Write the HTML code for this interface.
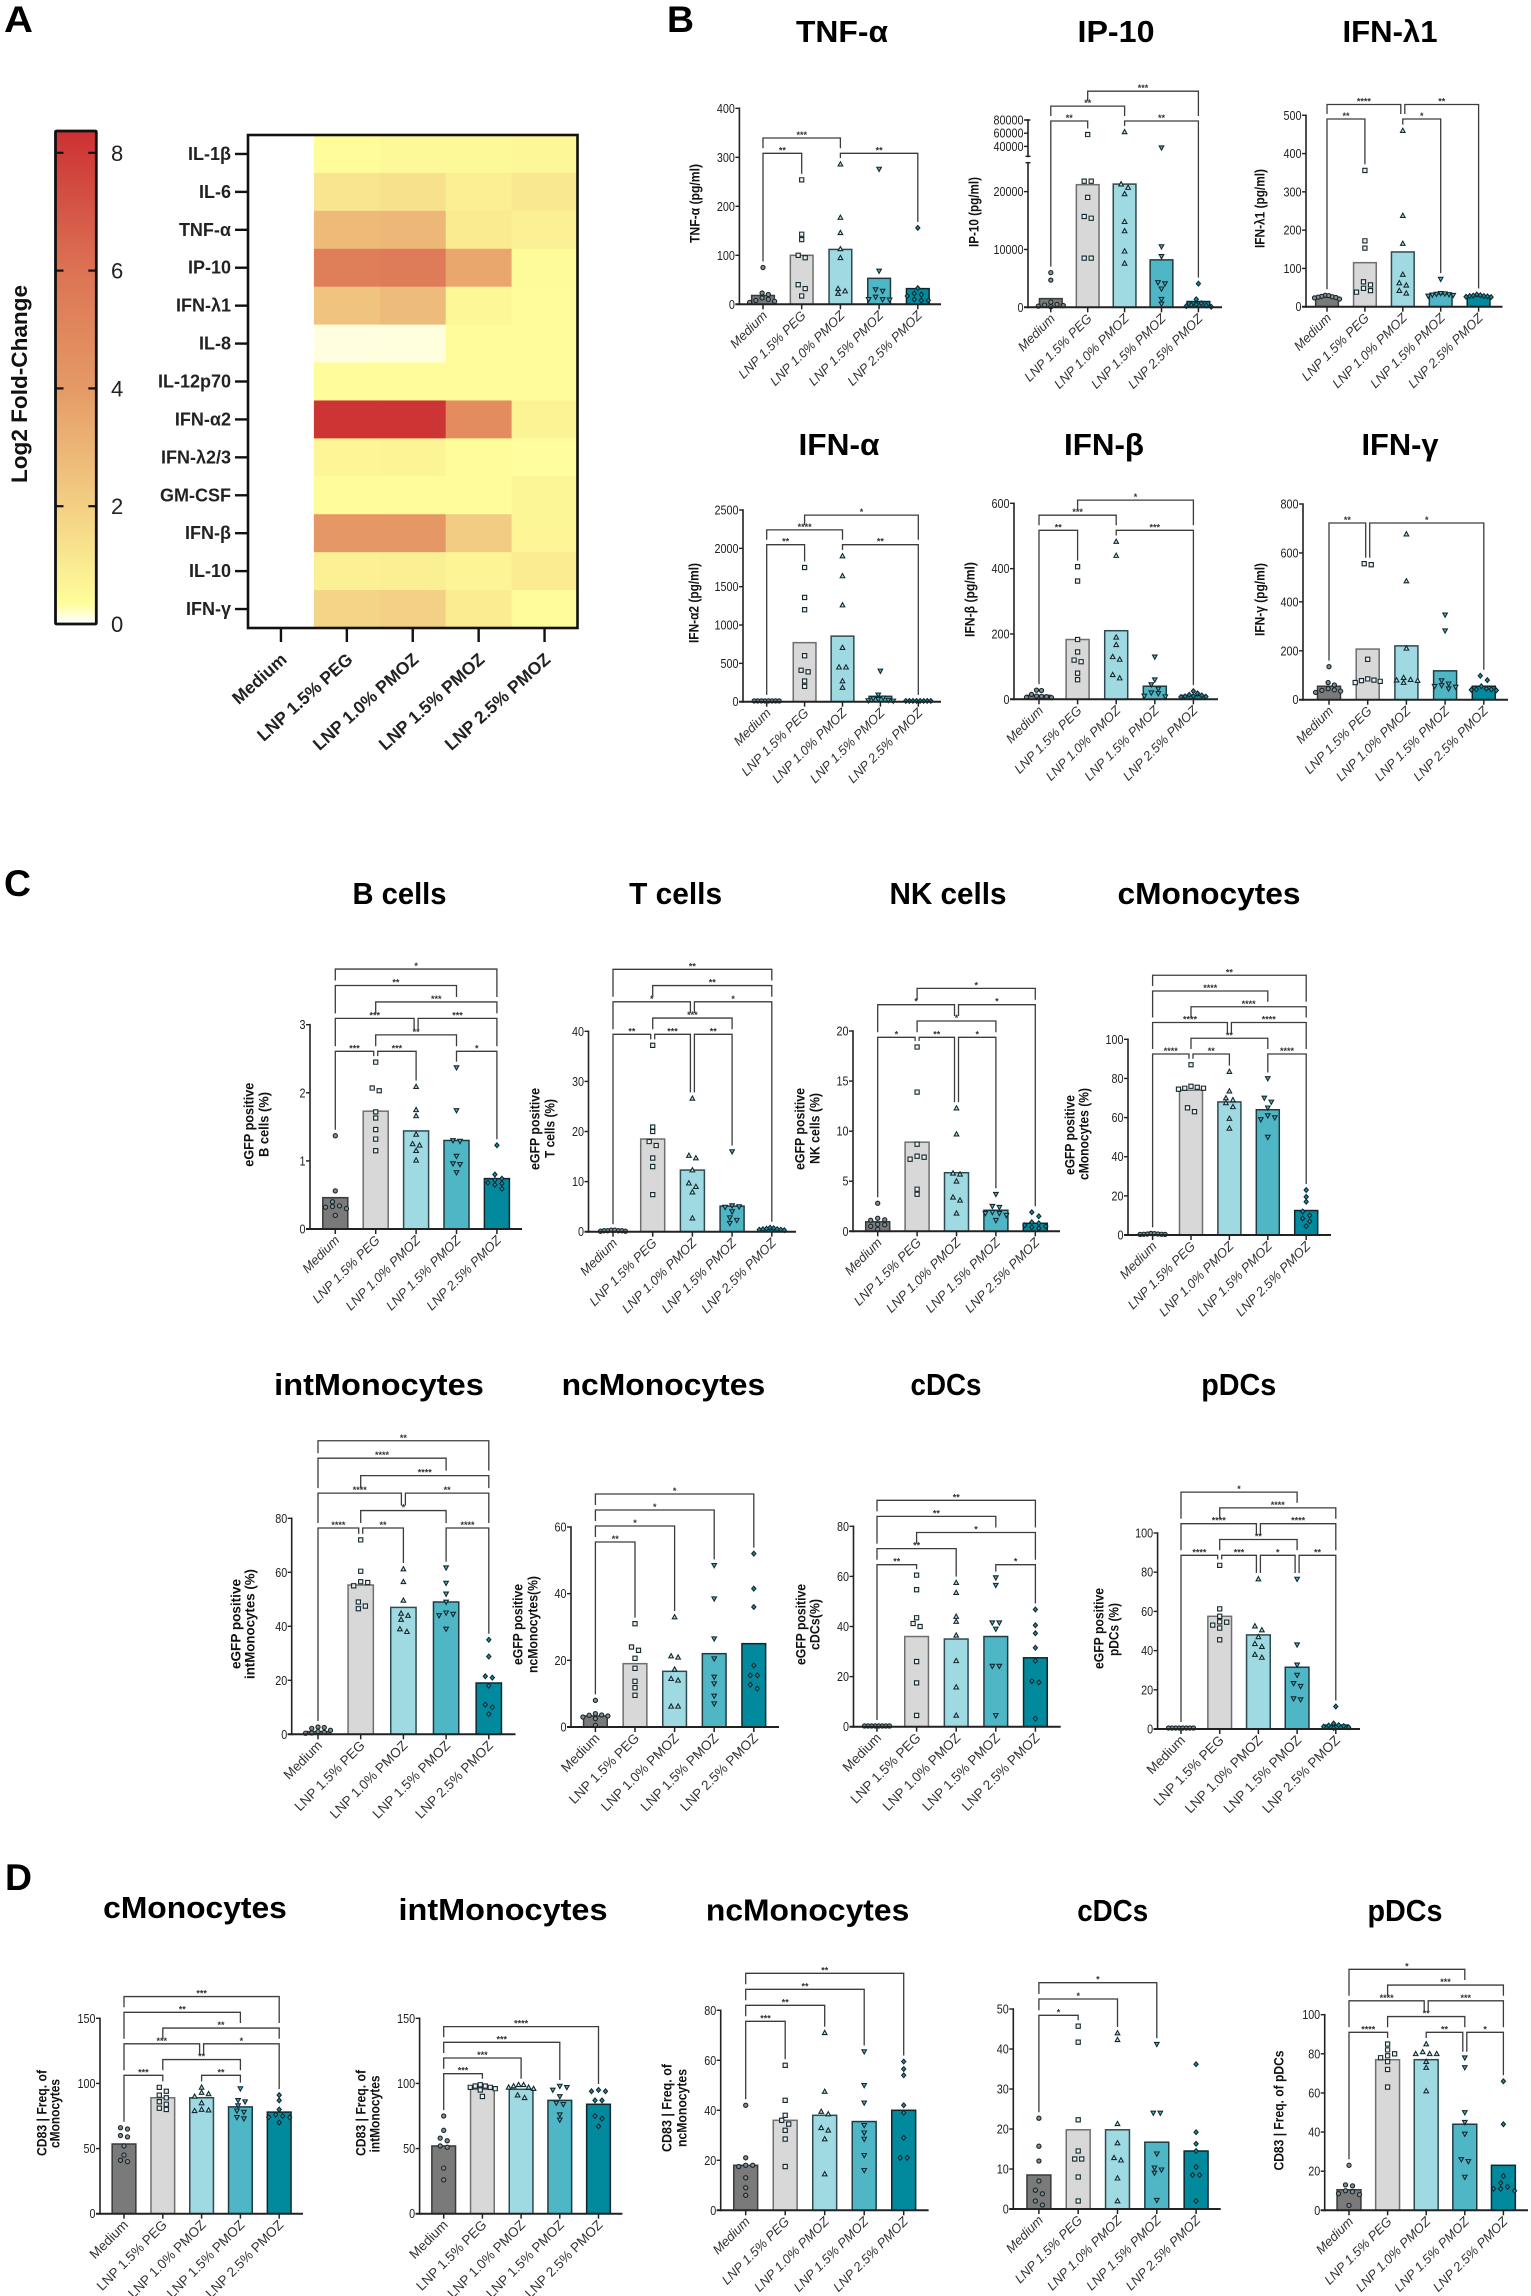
<!DOCTYPE html>
<html lang="en">
<head>
<meta charset="utf-8">
<title>LNP cytokine and eGFP panels</title>
<style>
html,body{margin:0;padding:0;background:#fff}
svg{display:block}
text{font-family:"Liberation Sans",Arial,sans-serif}
.panel-label{font-size:37px;font-weight:700;fill:#000}
</style>
</head>
<body>
<svg id="figure" xmlns="http://www.w3.org/2000/svg" width="1531" height="2296" viewBox="0 0 1531 2296">
<rect x="0" y="0" width="1531" height="2296" fill="#fff"/>
<defs><linearGradient id="heat-gradient" x1="0" y1="1" x2="0" y2="0"></linearGradient></defs>
<text class="panel-label" x="4" y="32" textLength="29" lengthAdjust="spacingAndGlyphs">A</text>
<text class="panel-label" x="667" y="32" textLength="27" lengthAdjust="spacingAndGlyphs">B</text>
<text class="panel-label" x="4" y="896" textLength="27" lengthAdjust="spacingAndGlyphs">C</text>
<text class="panel-label" x="5" y="1890" textLength="27" lengthAdjust="spacingAndGlyphs">D</text>
</svg>
<script>
// ---------- shared categories ----------
const categories = ['Medium','LNP 1.5% PEG','LNP 1.0% PMOZ','LNP 1.5% PMOZ','LNP 2.5% PMOZ'];
const barFills = ['#7a7a7a','#d8d8d8','#9fdae2','#4fb6c6','#018a9e'];
const barStrokes = ['#3a3a3a','#6f6f6f','#2f4a50','#1f3b42','#10262c'];
const markerFills = ['#8c8c8c','#efefef','#bfe7ec','#4fb6c6','#0f94a8'];

// ---------- heatmap data ----------
const heatRows = ['IL-1β','IL-6','TNF-α','IP-10','IFN-λ1','IL-8','IL-12p70','IFN-α2','IFN-λ2/3','GM-CSF','IFN-β','IL-10','IFN-γ'];
const heatValues = [
 [null,.38,.5,.5,.55],
 [null,1.2,1.35,.85,1.1],
 [null,2.8,2.9,1.0,.8],
 [null,5.4,5.6,3.5,.42],
 [null,2.4,2.7,.55,.36],
 [null,.13,.14,.4,.4],
 [null,.36,.36,.4,.4],
 [null,8.2,8.2,4.7,.7],
 [null,.62,.66,.36,.34],
 [null,.36,.4,.4,.6],
 [null,4.1,4.1,2.1,.62],
 [null,.8,.85,.66,.95],
 [null,1.8,1.95,.95,.36]
];
const colorTicks = [0,2,4,6,8];
const colorStopValues = [0,.08,.35,2,4,6,8.37];
const colorStopColors = ['#ffffff','#fffff0','#fffd9a','#f3cf84','#e59a66','#dc7354','#cc3033'];

// ---------- panel B ----------
const tnfTicks=[0,100,200,300,400];
const tnfBars=[18,100,112,53,32];
const tnfPoints=[[75,23,20,13,10,8,6,4],[254,143,132,100,95,40,32,17],[286,177,146,113,95,32,27,22],[276,68,30,27,15,10,10,9],[156,33,22,20,17,10,8,8]];
const tnfBrackets=[[0,1,'**',1],[2,4,'**',1],[0,2,'***',2]];

const ip10Ticks=[0,10000,20000,40000,60000,80000];
const ip10Bars=[1500,21200,21300,8200,1000];
const ip10Points=[[6000,4700,900,500,400,300,200,100],[58000,21800,21800,19000,15700,15400,8500,8500],[62000,21300,20700,19600,14800,13200,9700,7600],[38000,10500,8800,4300,4100,3200,1400,600],[4100,1400,700,500,400,300,200,100]];
const ip10Brackets=[[0,1,'**',1],[2,4,'**',1],[0,2,'**',2],[1,4,'***',3]];

const ifnl1Ticks=[0,100,200,300,400,500];
const ifnl1Bars=[25,115,143,33,28];
const ifnl1Points=[[30,29,27,26,25,24,23,20],[356,172,153,65,57,48,42,38],[460,238,165,84,62,56,42,35],[72,35,34,33,32,31,30,28],[32,30,29,28,28,27,26,25]];
const ifnl1Brackets=[[0,1,'**',1],[2,3,'*',1],[0,2,'****',2],[2,4,'**',2]];

const ifnaTicks=[0,500,1000,1500,2000,2500];
const ifnaBars=[10,770,855,70,10];
const ifnaPoints=[[10,10,10,10,10,10,10,10],[1750,1360,1200,600,410,390,270,200],[1900,1640,1260,705,450,450,270,185],[400,90,50,40,30,20,15,10],[10,10,10,10,10,10,10,10]];
const ifnaBrackets=[[0,1,'**',1],[2,4,'**',1],[0,2,'****',2],[1,4,'*',3]];

const ifnbTicks=[0,200,400,600];
const ifnbBars=[12,183,210,40,12];
const ifnbPoints=[[28,27,15,10,9,8,6,5],[406,362,183,145,120,115,80,60],[483,440,190,167,130,122,75,65],[130,60,45,32,20,18,10,8],[25,18,14,12,10,9,8,7]];
const ifnbBrackets=[[0,1,'**',1],[2,4,'***',1],[0,2,'***',2],[1,4,'*',3]];

const ifngTicks=[0,200,400,600,800];
const ifngBars=[55,207,220,118,55];
const ifngPoints=[[135,70,60,45,40,38,35,30],[556,552,165,85,80,78,75,70],[677,485,210,90,82,80,78,70],[347,282,78,65,58,55,52,45],[98,80,55,45,42,42,40,38]];
const ifngBrackets=[[0,1,'**',1],[1,4,'*',1]];

// ---------- panel C ----------
const bcellTicks=[0,1,2,3];
const bcellBars=[.46,1.73,1.44,1.30,.74];
const bcellPoints=[[1.37,.56,.40,.34,.33,.32,.30,.20],[2.45,2.07,2.03,1.72,1.63,1.46,1.32,1.15],[2.09,1.75,1.66,1.39,1.25,1.23,1.15,1.01],[2.37,1.74,1.30,1.29,1.07,.96,.95,.83],[1.23,.80,.74,.72,.68,.67,.65,.59]];
const bcellBrackets=[[0,1,'***',1],[1,2,'***',1],[3,4,'*',1],[1,3,'**',2],[0,2,'***',3],[2,4,'***',3],[1,4,'***',4],[0,3,'**',5],[0,4,'*',6]];

const tcellTicks=[0,10,20,30,40];
const tcellBars=[.2,18.5,12.3,5.1,.5];
const tcellPoints=[[.3,.3,.2,.2,.2,.2,.1,.1],[37.2,20.9,20,18,17.2,14.7,13,7.4],[26.6,15.2,14.7,12.3,9.7,9,7.9,2.7],[16,5.2,5,4.9,4,2.8,2.3,1.7],[.8,.7,.6,.5,.5,.4,.4,.3]];
const tcellBrackets=[[0,1,'**',1],[1,2,'***',1],[2,3,'**',1],[1,3,'***',2],[0,2,'*',3],[2,4,'*',3],[1,4,'**',4],[0,4,'**',5]];

const nkTicks=[0,5,10,15,20];
const nkBars=[.95,8.9,5.85,2.1,.8];
const nkPoints=[[2.8,1.3,1.15,1.1,.7,.65,.5,.2],[18.4,13.9,8.7,7.5,7.4,7.2,4.2,3.7],[12.3,9.7,5.8,5.7,5,3.4,3.1,1.8],[3.7,2.5,2.4,1.9,1.8,1.8,1.6,1.1],[1.9,1.5,.9,.8,.6,.5,.4,.3]];
const nkBrackets=[[0,1,'*',1],[1,2,'**',1],[2,3,'*',1],[1,3,'*',2],[0,2,'*',3],[2,4,'*',3],[1,4,'*',4]];

const cmonoTicks=[0,20,40,60,80,100];
const cmonoBars=[.5,74,68,64,12.5];
const cmonoPoints=[[.8,.7,.5,.5,.4,.4,.3,.3],[87,76,75.5,75,75,74.5,65,63],[83.5,73.5,70,69,67.5,65.5,59.5,54.5],[80,70,68,65,61,60,59,50],[23,19.5,17,12,10,8.5,7,4.5]];
const cmonoBrackets=[[0,1,'****',1],[1,2,'**',1],[3,4,'****',1],[1,3,'**',2],[0,2,'****',3],[2,4,'****',3],[1,4,'****',4],[0,3,'****',5],[0,4,'**',6]];

const imonoTicks=[0,20,40,60,80];
const imonoBars=[1,55.3,47,49,19];
const imonoPoints=[[2.7,2.5,2.2,1.5,1,.7,.5,.4],[72,60.4,56.5,56.2,55,49,47.5,46.5],[61.2,56.5,49.6,44.8,44,42.5,39,38],[61.7,56,52,49,45,44.5,44,39],[35,28.8,21.5,21,18,11,10,7.5]];
const imonoBrackets=[[0,1,'****',1],[1,2,'**',1],[3,4,'****',1],[1,3,'*',2],[0,2,'****',3],[2,4,'**',3],[1,4,'****',4],[0,3,'****',5],[0,4,'**',6]];

const ncmonoTicks=[0,20,40,60];
const ncmonoBars=[3.3,19,16.7,22,25];
const ncmonoPoints=[[8,4,3.6,3.5,3.3,3,2.5,.5],[31,24,23,20.6,17.6,13.7,11.8,9.5],[33,21.3,20.9,17.3,14.5,14,6.2,6.2],[48.5,38.5,26.5,20.5,15,13,9.3,7],[52,41.5,36,18.5,15.5,15.5,12.7,11.5]];
const ncmonoBrackets=[[0,1,'**',1],[0,2,'*',2],[0,3,'*',3],[0,4,'*',4]];

const cdcTicks=[0,20,40,60,80];
const cdcBars=[.3,36,35,36,27.5];
const cdcPoints=[[.3,.3,.3,.3,.3,.3,.3,.3],[60.5,54.7,43.5,41.2,40,26,17.5,4.5],[57.5,53.5,44,42,36.5,26.3,15.8,4.5],[59.5,56.5,41.5,41.5,39,24.2,24.2,4.5],[46.8,40.5,37.3,31.5,26.3,18.2,17.7,3.2]];
const cdcBrackets=[[0,1,'**',1],[3,4,'*',1],[0,2,'**',2],[1,4,'*',3],[0,3,'**',4],[0,4,'**',5]];

const pdcTicks=[0,20,40,60,80,100];
const pdcBars=[.5,57.5,48,31.5,2];
const pdcPoints=[[.5,.5,.5,.5,.5,.5,.5,.5],[83.5,61.3,57.5,54.7,54.5,53,51.5,45.5],[76.5,52.5,50.5,47,43.5,42,38,36.5],[76.5,43,32.7,27.5,23.3,21.8,15.5,15],[11.5,2.8,2,1.8,1.5,1.2,.9,.5]];
const pdcBrackets=[[0,1,'****',1],[1,2,'***',1],[2,3,'*',1],[3,4,'**',1],[1,3,'**',2],[0,2,'****',3],[2,4,'****',3],[1,4,'****',4],[0,3,'*',5]];

// ---------- panel D ----------
const dCmonoTicks=[0,50,100,150];
const dCmonoBars=[53.5,89,89,82,78];
const dCmonoPoints=[[66,65,60,59,52,45,41,40],[97,94,91,89,86,84,81,80],[97,93,92,90,85,80,79.5,79],[96,87,86,83,79,78,74,73],[91,87,80,76,75,74,74,70]];
const dCmonoBrackets=[[0,1,'***',1],[2,3,'**',1],[1,3,'**',2],[0,2,'***',3],[2,4,'*',3],[1,4,'**',4],[0,3,'**',5],[0,4,'***',6]];

const dImonoTicks=[0,50,100,150];
const dImonoBars=[52,95.5,95.5,87,84];
const dImonoPoints=[[75,64,58,56,52,51,35,26],[99,98,98,97,97,96,95,90],[99,99,98,97,97,96,91,89],[98,97,95,90,85,84,76,72],[95,94,94,87,87,75,73,67]];
const dImonoBrackets=[[0,1,'***',1],[0,2,'***',2],[0,3,'***',3],[0,4,'****',4]];

const dNcmonoTicks=[0,20,40,60,80];
const dNcmonoBars=[18,36,38,35.5,40];
const dNcmonoPoints=[[42,21,18,18,17.5,13,9,6],[58,44,38,36,34.5,32,28.5,17.5],[71,47.5,39.5,38.5,33,32,28.5,14.5],[63.5,50,43,34,31,28.5,22,16],[59.5,56.5,54,42,39,29,21,21]];
const dNcmonoBrackets=[[0,1,'***',1],[0,2,'**',2],[0,3,'**',3],[0,4,'**',4]];

const dCdcTicks=[0,10,20,30,40,50];
const dCdcBars=[8.5,19.8,19.8,16.7,14.5];
const dCdcPoints=[[22.7,15.7,12,7,4.7,3.8,2,1],[45.7,41.7,22.3,14.5,12.5,12.5,8,2],[44,42.3,21.3,16.5,12.8,12.2,7.7,2],[41.2,24,24,13.8,10.3,9.8,9,2.2],[36.2,19.2,16.3,14.5,10.5,8.5,8.5,2]];
const dCdcBrackets=[[0,1,'*',1],[0,2,'*',2],[0,3,'*',3]];

const dPdcTicks=[0,20,40,60,80,100];
const dPdcBars=[10.5,77,77,44,23];
const dPdcPoints=[[23,13,12.5,10,9.5,8.5,8,2.5],[85,82,80,79,78,76,72,63],[85,81,80,80,80,76,73,61],[78,73,50,45,39,26,25,17],[66,44,17.5,14,12,11,11,10]];
const dPdcBrackets=[[0,1,'****',1],[2,3,'**',1],[3,4,'*',1],[1,3,'**',2],[0,2,'****',3],[2,4,'***',3],[1,4,'***',4],[0,3,'*',5]];

// ---------- helpers ----------
const NS='http://www.w3.org/2000/svg';
const root=document.getElementById('figure');
function make(tag,attrs,parent){
  const el=document.createElementNS(NS,tag);
  for(const k in attrs){el.setAttribute(k,attrs[k]);}
  parent.appendChild(el);
  return el;
}
function heatColor(v){
  if(v===null){return '#ffffff';}
  for(let i=1;i<colorStopValues.length;i++){
    if(v<=colorStopValues[i]){
      const t=(v-colorStopValues[i-1])/(colorStopValues[i]-colorStopValues[i-1]);
      return mix(colorStopColors[i-1],colorStopColors[i],t);
    }
  }
  return colorStopColors[colorStopColors.length-1];
}
function mix(a,b,t){
  const pa=[1,3,5].map(function(i){return parseInt(a.substr(i,2),16);});
  const pb=[1,3,5].map(function(i){return parseInt(b.substr(i,2),16);});
  return 'rgb('+pa.map(function(c,i){return Math.round(c+(pb[i]-c)*t);}).join(',')+')';
}
function markerPath(shape,x,y){
  const r=2.1;
  if(shape===0){return 'M'+(x-r)+' '+y+'a'+r+' '+r+' 0 1 0 '+(2*r)+' 0a'+r+' '+r+' 0 1 0 '+(-2*r)+' 0z';}
  if(shape===1){return 'M'+(x-r)+' '+(y-r)+'h'+(2*r)+'v'+(2*r)+'h'+(-2*r)+'z';}
  if(shape===2){return 'M'+x+' '+(y-r-.3)+'L'+(x+r+.2)+' '+(y+r-.3)+'H'+(x-r-.2)+'z';}
  if(shape===3){return 'M'+x+' '+(y+r+.3)+'L'+(x+r+.2)+' '+(y-r+.3)+'H'+(x-r-.2)+'z';}
  return 'M'+x+' '+(y-r-.3)+'L'+(x+r)+' '+y+'L'+x+' '+(y+r+.3)+'L'+(x-r)+' '+y+'z';
}
function swarm(ys){
  const order=ys.map(function(y,i){return i;}).sort(function(a,b){return ys[a]-ys[b];});
  const off=new Array(ys.length).fill(0);
  const placed=[];
  const step=7;
  order.forEach(function(i){
    for(let k=0;k<40;k++){
      const cand=k===0?0:(k%2?(k+1)/2*step:-k/2*step);
      const clash=placed.some(function(j){return Math.abs(ys[j]-ys[i])<4.5&&Math.abs(off[j]-cand)<6.5;});
      if(!clash){off[i]=cand;placed.push(i);break;}
    }
  });
  let start=0;
  for(let n=1;n<=order.length;n++){
    if(n===order.length||ys[order[n]]-ys[order[n-1]]>=4.5){
      const idx=order.slice(start,n);
      const mean=idx.reduce(function(s,i){return s+off[i];},0)/idx.length;
      const lo=Math.min.apply(null,idx.map(function(i){return off[i]-mean;}));
      const hi=Math.max.apply(null,idx.map(function(i){return off[i]-mean;}));
      const f=hi-lo>25?25/(hi-lo):1;
      idx.forEach(function(i){off[i]=(off[i]-mean)*f;});
      start=n;
    }
  }
  return off;
}

// ---------- heatmap ----------
function drawHeatmap(){
  const grad=document.getElementById('heat-gradient');
  colorStopValues.forEach(function(v,i){
    make('stop',{offset:(v/8.37*100)+'%','stop-color':colorStopColors[i]},grad);
  });
  const g=make('g',{},root);
  
  
  const barX=55.5,barW=40.8,barTop=131,barBot=624;
  const barY=function(v){return barBot-v/8.37*(barBot-barTop);};
  const cb=make('rect',{x:barX,y:barTop,width:barW,height:barBot-barTop,fill:'url(#heat-gradient)',stroke:'#111','stroke-width':2.8,rx:1},g);
  
  
  colorTicks.forEach(function(v){
    const y=barY(v);
    if(v>0){
      const t1=make('line',{x1:barX,x2:barX+8,y1:y,y2:y,stroke:'#111','stroke-width':2.2},g);
      
      
      const t2=make('line',{x1:barX+barW-8,x2:barX+barW,y1:y,y2:y,stroke:'#111','stroke-width':2.2},g);
      
      
    }
    const tx=make('text',{x:111,y:y+8,'font-size':22,fill:'#222'},g);
    tx.textContent=String(v);
    
    
  });
  const ct=make('text',{x:27,y:384,'font-size':22,'font-weight':700,'text-anchor':'middle',fill:'#111',transform:'rotate(-90 27 384)',textLength:198,lengthAdjust:'spacingAndGlyphs'},g);
  ct.textContent='Log2 Fold-Change';
  
  

  const left=248,right=577.5,top=135,bot=628;
  const cw=(right-left)/categories.length,rh=(bot-top)/heatRows.length;
  heatRows.forEach(function(name,r){
    categories.forEach(function(c,ci){
      const cell=make('rect',{x:left+ci*cw,y:top+r*rh,width:cw+.4,height:rh+.4,fill:heatColor(heatValues[r][ci])},g);
      
      
    });
    const y=top+(r+.5)*rh;
    const tk=make('line',{x1:235,x2:left,y1:y,y2:y,stroke:'#111','stroke-width':2.4},g);
    
    
    const lb=make('text',{x:231,y:y+6,'font-size':18,'font-weight':700,'text-anchor':'end',fill:'#222'},g);
    lb.textContent=name;
    
    
  });
  const frame=make('rect',{x:left,y:top,width:right-left,height:bot-top,fill:'none',stroke:'#111','stroke-width':2.6},g);
  
  
  categories.forEach(function(c,ci){
    const x=left+(ci+.5)*cw;
    const tk=make('line',{x1:x,x2:x,y1:bot,y2:642,stroke:'#111','stroke-width':2.4},g);
    
    
    const lb=make('text',{x:x+7,y:661,'font-size':17.5,'font-weight':700,'text-anchor':'end',fill:'#222',transform:'rotate(-42 '+(x+7)+' 661)'},g);
    lb.textContent=c;
    
    
  });
}

// ---------- bar chart ----------
function drawBarChart(o){
  const g=make('g',{},root);
  
  
  const yScale=function(v){
    for(let i=0;i<o.scale.length;i++){
      const s=o.scale[i];
      if(v<=s[2]||i===o.scale.length-1){return s[1]+(v-s[0])/(s[2]-s[0])*(s[3]-s[1]);}
    }
  };
  const xScale=function(i){return o.cx0+i*o.dx;};
  const y0=yScale(0);

  const title=make('text',{x:o.titleX,y:o.titleBase,'font-size':31,'font-weight':700,'text-anchor':'middle',fill:'#000',textLength:o.titleW,lengthAdjust:'spacingAndGlyphs'},g);
  title.textContent=o.title;
  
  

  o.yTitles.forEach(function(t){
    const tx=t[1]+.5;
    const yt=make('text',{x:tx,y:t[2],'font-size':13.5,'font-weight':700,'text-anchor':'middle',fill:'#111',transform:'rotate(-90 '+tx+' '+t[2]+')',textLength:t[3],lengthAdjust:'spacingAndGlyphs'},g);
    yt.textContent=t[0];
    
    
  });

  o.bars.forEach(function(v,i){
    const x=xScale(i);
    const top=yScale(v);
    const bar=make('rect',{x:x-o.barW/2,y:top,width:o.barW,height:y0-top,fill:barFills[i],stroke:barStrokes[i],'stroke-width':1.5},g);
    
    
  });

  o.points.forEach(function(vals,i){
    const ys=vals.map(yScale);
    const off=swarm(ys);
    vals.forEach(function(v,k){
      const pt=make('path',{d:markerPath(i,xScale(i)+off[k],ys[k]),fill:markerFills[i],stroke:'#13282e','stroke-width':1.1},g);
      
      
    });
  });

  // y axis (one line per scale segment so the broken axis shows a gap)
  o.scale.forEach(function(s){
    const ln=make('line',{x1:o.axisX,x2:o.axisX,y1:s[1]+1,y2:s[3]-.8,stroke:'#222','stroke-width':1.6},g);
    
    
    if(o.scale.length>1){
      [s[1],s[3]].forEach(function(yy){
        const bk=make('line',{x1:o.axisX-2.5,x2:o.axisX+2.5,y1:yy,y2:yy,stroke:'#222','stroke-width':1.4},g);
        
        
      });
    }
  });
  o.ticks.forEach(function(v){
    const y=yScale(v);
    const tk=make('line',{x1:o.axisX-4,x2:o.axisX,y1:y,y2:y,stroke:'#222','stroke-width':1.4},g);
    
    
    const s=String(v);
    const lb=make('text',{x:o.axisX-4.5,y:y+4.5,'font-size':12.5,'text-anchor':'end',fill:'#222',textLength:s.length*6,lengthAdjust:'spacingAndGlyphs'},g);
    lb.textContent=s;
    
    
  });

  // x axis
  const xa=make('line',{x1:o.axisX-4,x2:o.axisEnd,y1:y0,y2:y0,stroke:'#222','stroke-width':2},g);
  
  
  categories.forEach(function(c,i){
    const x=xScale(i);
    const tk=make('line',{x1:x,x2:x,y1:y0,y2:y0+5,stroke:'#222','stroke-width':1.5},g);
    
    
    const ax=x+5,ay=y0+12;
    const lb=make('text',{x:ax,y:ay,'font-size':o.italic?13:13.5,'font-style':o.italic?'italic':'normal','text-anchor':'end',fill:'#333',transform:'rotate(-45 '+ax+' '+ay+')'},g);
    lb.textContent=c;
    
    
  });

  // significance brackets: positions derive from level, data and lower brackets
  const levelY=function(l){return o.bracketY-(l-1)*o.bracketStep;};
  const legEnd=function(cat,level){
    let best=0;
    o.brackets.forEach(function(b){
      if(b[3]<level&&b[0]<=cat&&cat<=b[1]&&b[3]>best){best=b[3];}
    });
    if(best>0){return levelY(best)-5;}
    return yScale(Math.max.apply(null,o.points[cat]))-6;
  };
  o.brackets.forEach(function(b){
    const y=levelY(b[3]);
    const sharedL=o.brackets.some(function(q){return q!==b&&q[3]===b[3]&&q[1]===b[0];});
    const sharedR=o.brackets.some(function(q){return q!==b&&q[3]===b[3]&&q[0]===b[1];});
    const xa2=xScale(b[0])+(sharedL?2:0);
    const xb2=xScale(b[1])-(sharedR?2:0);
    const br=make('path',{d:'M'+xa2+' '+legEnd(b[0],b[3])+'V'+y+'H'+xb2+'V'+legEnd(b[1],b[3]),fill:'none',stroke:'#3c3c3c','stroke-width':1.3},g);
    
    
    const st=make('text',{x:(xa2+xb2)/2,y:y,'font-size':9,'font-weight':700,'text-anchor':'middle',fill:'#333'},g);
    st.textContent=b[2];
    
    
  });
}

drawHeatmap();

// Panel B
drawBarChart({name:'tnf-alpha',title:'TNF-α',titleX:842,titleBase:42,titleW:92,axisX:739.4,axisEnd:941,scale:[[0,304.3,400,108.3]],ticks:tnfTicks,cx0:763,dx:38.7,barW:22.7,bars:tnfBars,points:tnfPoints,brackets:tnfBrackets,bracketY:153.3,bracketStep:15.3,italic:true,yTitles:[['TNF-α (pg/ml)',699,203.5,79]]});
drawBarChart({name:'ip-10',title:'IP-10',titleX:1116,titleBase:42,titleW:77,axisX:1028,axisEnd:1222,scale:[[0,307.3,25000,162.7],[25000,156.3,80000,120]],ticks:ip10Ticks,cx0:1050.8,dx:36.9,barW:22.7,bars:ip10Bars,points:ip10Points,brackets:ip10Brackets,bracketY:121,bracketStep:14.9,italic:true,yTitles:[['IP-10 (pg/ml)',978,212,70]]});
drawBarChart({name:'ifn-lambda1',title:'IFN-λ1',titleX:1390,titleBase:42,titleW:95,axisX:1306,axisEnd:1502.5,scale:[[0,306.7,500,115.3]],ticks:ifnl1Ticks,cx0:1327,dx:37.9,barW:22.7,bars:ifnl1Bars,points:ifnl1Points,brackets:ifnl1Brackets,bracketY:119,bracketStep:14.5,italic:true,yTitles:[['IFN-λ1 (pg/ml)',1264,208.5,79]]});
drawBarChart({name:'ifn-alpha',title:'IFN-α',titleX:839,titleBase:455,titleW:81,axisX:743,axisEnd:941,scale:[[0,701.7,2500,510]],ticks:ifnaTicks,cx0:766.7,dx:37.9,barW:22.7,bars:ifnaBars,points:ifnaPoints,brackets:ifnaBrackets,bracketY:544.7,bracketStep:14.8,italic:true,yTitles:[['IFN-α2 (pg/ml)',698,603,80]]});
drawBarChart({name:'ifn-beta',title:'IFN-β',titleX:1104,titleBase:455,titleW:80,axisX:1014,axisEnd:1218,scale:[[0,699.3,600,503.3]],ticks:ifnbTicks,cx0:1039,dx:38.6,barW:23,bars:ifnbBars,points:ifnbPoints,brackets:ifnbBrackets,bracketY:530.3,bracketStep:15.1,italic:true,yTitles:[['IFN-β (pg/ml)',974,599.5,75]]});
drawBarChart({name:'ifn-gamma',title:'IFN-γ',titleX:1400,titleBase:455,titleW:77,axisX:1303,axisEnd:1508,scale:[[0,699.7,800,504]],ticks:ifngTicks,cx0:1329,dx:38.7,barW:23,bars:ifngBars,points:ifngPoints,brackets:ifngBrackets,bracketY:523,bracketStep:15,italic:true,yTitles:[['IFN-γ (pg/ml)',1264,599.5,73]]});

// Panel C
drawBarChart({name:'eGFP-b-cells',title:'B cells',titleX:399.5,titleBase:904,titleW:94,axisX:310,axisEnd:522,scale:[[0,1229,3,1024.7]],ticks:bcellTicks,cx0:335.3,dx:40.4,barW:25,bars:bcellBars,points:bcellPoints,brackets:bcellBrackets,bracketY:1051.3,bracketStep:16.45,italic:true,yTitles:[['eGFP positive',253,1124.7,84],['B cells (%)',268,1124.5,65]]});
drawBarChart({name:'eGFP-t-cells',title:'T cells',titleX:675.6,titleBase:904,titleW:93,axisX:588.5,axisEnd:796,scale:[[0,1231.7,40,1031.3]],ticks:tcellTicks,cx0:613,dx:39.7,barW:24,bars:tcellBars,points:tcellPoints,brackets:tcellBrackets,bracketY:1034.3,bracketStep:16.25,italic:true,yTitles:[['eGFP positive',539,1129,82],['T cells (%)',554,1128.5,59]]});
drawBarChart({name:'eGFP-nk-cells',title:'NK cells',titleX:948,titleBase:904,titleW:117,axisX:853,axisEnd:1060,scale:[[0,1231.3,20,1031]],ticks:nkTicks,cx0:877.7,dx:39.4,barW:24,bars:nkBars,points:nkPoints,brackets:nkBrackets,bracketY:1037.3,bracketStep:16.3,italic:true,yTitles:[['eGFP positive',804,1129,82],['NK cells (%)',819,1128.5,71]]});
drawBarChart({name:'eGFP-c-monocytes',title:'cMonocytes',titleX:1209,titleBase:904,titleW:183,axisX:1128,axisEnd:1331,scale:[[0,1235,100,1039.3]],ticks:cmonoTicks,cx0:1152.6,dx:38.4,barW:23,bars:cmonoBars,points:cmonoPoints,brackets:cmonoBrackets,bracketY:1054,bracketStep:15.75,italic:true,yTitles:[['eGFP positive',1074,1135,80],['cMonocytes (%)',1088,1134,92]]});
drawBarChart({name:'eGFP-int-monocytes',title:'intMonocytes',titleX:379,titleBase:1395,titleW:209.6,axisX:291.7,axisEnd:515.5,scale:[[0,1734.3,80,1518.3]],ticks:imonoTicks,cx0:318,dx:42.7,barW:25.3,bars:imonoBars,points:imonoPoints,brackets:imonoBrackets,bracketY:1528,bracketStep:17.45,italic:false,yTitles:[['eGFP positive',240,1624,90],['intMonocytes (%)',254,1624,110]]});
drawBarChart({name:'eGFP-nc-monocytes',title:'ncMonocytes',titleX:663.4,titleBase:1395,titleW:203.6,axisX:571,axisEnd:779,scale:[[0,1727,60,1527]],ticks:ncmonoTicks,cx0:595.4,dx:39.6,barW:23.7,bars:ncmonoBars,points:ncmonoPoints,brackets:ncmonoBrackets,bracketY:1542,bracketStep:16,italic:false,yTitles:[['eGFP positive',522,1624.5,81],['ncMonocytes(%)',537,1624.5,97]]});
drawBarChart({name:'eGFP-cdcs',title:'cDCs',titleX:946,titleBase:1395,titleW:71,axisX:853.5,axisEnd:1060.7,scale:[[0,1726.7,80,1526.3]],ticks:cdcTicks,cx0:877,dx:39.6,barW:23.7,bars:cdcBars,points:cdcPoints,brackets:cdcBrackets,bracketY:1564.7,bracketStep:16.1,italic:false,yTitles:[['eGFP positive',805,1624.5,81],['cDCs(%)',819,1624.5,51]]});
drawBarChart({name:'eGFP-pdcs',title:'pDCs',titleX:1238.7,titleBase:1395,titleW:75,axisX:1157.6,axisEnd:1360,scale:[[0,1729,100,1533]],ticks:pdcTicks,cx0:1181,dx:38.7,barW:23.7,bars:pdcBars,points:pdcPoints,brackets:pdcBrackets,bracketY:1555.3,bracketStep:15.8,italic:false,yTitles:[['eGFP positive',1103,1628.5,81],['pDCs (%)',1118,1629.5,53]]});

// Panel D
drawBarChart({name:'cd83-c-monocytes',title:'cMonocytes',titleX:195,titleBase:1918,titleW:183.7,axisX:100,axisEnd:303,scale:[[0,2213.7,150,2018.3]],ticks:dCmonoTicks,cx0:124,dx:38.8,barW:23.7,bars:dCmonoBars,points:dCmonoPoints,brackets:dCmonoBrackets,bracketY:2075.3,bracketStep:15.75,italic:false,yTitles:[['CD83 | Freq. of',46,2113,86],['cMonocytes',59,2113.5,69]]});
drawBarChart({name:'cd83-int-monocytes',title:'intMonocytes',titleX:503,titleBase:1920,titleW:209,axisX:419.6,axisEnd:622.4,scale:[[0,2213.7,150,2018.3]],ticks:dImonoTicks,cx0:443.7,dx:38.7,barW:23.7,bars:dImonoBars,points:dImonoPoints,brackets:dImonoBrackets,bracketY:2073.7,bracketStep:15.7,italic:false,yTitles:[['CD83 | Freq. of',365,2113,86],['intMonocytes',379,2114,77]]});
drawBarChart({name:'cd83-nc-monocytes',title:'ncMonocytes',titleX:807.6,titleBase:1920.5,titleW:203.4,axisX:720.7,axisEnd:928.6,scale:[[0,2210.3,80,2010.3]],ticks:dNcmonoTicks,cx0:745.7,dx:39.5,barW:23.9,bars:dNcmonoBars,points:dNcmonoPoints,brackets:dNcmonoBrackets,bracketY:2021.3,bracketStep:16,italic:true,yTitles:[['CD83 | Freq. of',671,2108,88],['ncMonocytes',686,2108,78]]});
drawBarChart({name:'cd83-cdcs',title:'cDCs',titleX:1112.7,titleBase:1921,titleW:71,axisX:1013.3,axisEnd:1220.7,scale:[[0,2209,50,2009]],ticks:dCdcTicks,cx0:1038.9,dx:39.3,barW:23.9,bars:dCdcBars,points:dCdcPoints,brackets:dCdcBrackets,bracketY:2015.3,bracketStep:16.3,italic:true,yTitles:[]});
drawBarChart({name:'cd83-pdcs',title:'pDCs',titleX:1405,titleBase:1921,titleW:75,axisX:1324.7,axisEnd:1528,scale:[[0,2210.3,100,2014.7]],ticks:dPdcTicks,cx0:1349,dx:38.6,barW:23.9,bars:dPdcBars,points:dPdcPoints,brackets:dPdcBrackets,bracketY:2032.3,bracketStep:15.75,italic:true,yTitles:[['CD83 | Freq. of pDCs',1283,2110.5,120]]});
</script>
</body>
</html>
